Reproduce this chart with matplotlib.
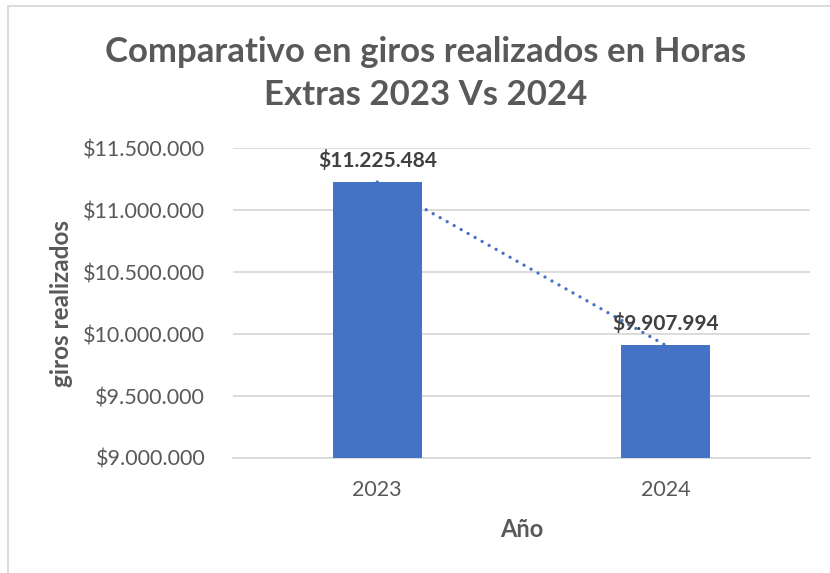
import numpy as np
import matplotlib.pyplot as plt
from matplotlib.ticker import FuncFormatter
from matplotlib.patches import Rectangle

plt.rcParams['font.family'] = ['Lato', 'DejaVu Sans']

anios = ['2023', '2024']
giros = [11225484, 9907994]
y_ticks = [9000000, 9500000, 10000000, 10500000, 11000000, 11500000]

azul = '#4472C4'
gris = '#595959'


def pesos(v, pos=None):
    return '$' + f'{int(round(v)):,}'.replace(',', '.')


fig = plt.figure(figsize=(8.3, 5.73), dpi=100)
ax = fig.add_axes([0.2807, 0.2007, 0.6952, 0.541])

x = np.arange(len(anios))
ax.bar(x, giros, width=0.31, color=azul, zorder=3)

# linea de tendencia (lineal) punteada
coef = np.polyfit(x, giros, 1)
ax.plot(x, np.polyval(coef, x), linestyle=(0, (0.01, 2.4)), color=azul,
        linewidth=2.4, zorder=4, dash_capstyle='round')

for xi, v in zip(x, giros):
    ax.annotate(pesos(v), (xi, v), xytext=(0, 8), textcoords='offset points',
                ha='center', va='bottom', fontsize=15, fontweight='bold',
                color='#404040', zorder=5)

ax.set_xlim(-0.5, 1.5)
ax.set_ylim(9000000, 11500000)
ax.set_yticks(y_ticks)
ax.yaxis.set_major_formatter(FuncFormatter(pesos))
ax.set_xticks(x)
ax.set_xticklabels(anios)
ax.tick_params(axis='both', length=0, colors=gris, labelsize=15.5)
ax.yaxis.set_tick_params(pad=20)
ax.xaxis.set_tick_params(pad=16)

ax.grid(axis='y', color='#D9D9D9', linewidth=1.3, zorder=0)
for s in ['top', 'right', 'left']:
    ax.spines[s].set_visible(False)
ax.spines['bottom'].set_color('#D9D9D9')
ax.spines['bottom'].set_linewidth(1.3)

ax.set_xlabel('Año', fontsize=17, fontweight='bold', color=gris, labelpad=13)
ax.set_ylabel('giros realizados', fontsize=17.5, fontweight='bold', color=gris,
              labelpad=7)

fig.text(0.513, 0.872, 'Comparativo en giros realizados en Horas\nExtras 2023 Vs 2024',
         ha='center', va='center', fontsize=25, fontweight='bold', color=gris,
         linespacing=1.42)

# borde del grafico
fig.patches.append(Rectangle((8 / 830, -0.05), 1.2, 1.04, transform=fig.transFigure,
                             fill=False, edgecolor='#D9D9D9', linewidth=1.3))

fig.savefig('out.png', dpi=100)
